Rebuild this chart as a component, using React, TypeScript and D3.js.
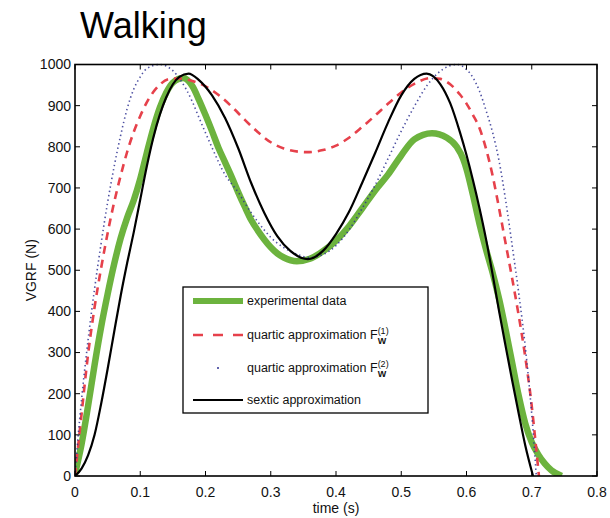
import React from 'react';
import * as d3 from 'd3';

type Pt = [number, number];

const timeTicks = [0, 0.1, 0.2, 0.3, 0.4, 0.5, 0.6, 0.7, 0.8];
const forceTicks = [0, 100, 200, 300, 400, 500, 600, 700, 800, 900, 1000];

// experimental data (green)
const experimental: Pt[] = [
  [0, 5], [0.01, 77], [0.02, 170], [0.03, 270], [0.04, 362], [0.05, 442], [0.06, 515],
  [0.07, 578], [0.08, 628], [0.09, 670], [0.10, 722], [0.11, 785], [0.12, 845],
  [0.13, 895], [0.14, 932], [0.15, 956], [0.166, 967], [0.18, 947], [0.19, 914],
  [0.20, 877], [0.21, 838], [0.22, 797], [0.23, 762], [0.24, 727], [0.25, 690],
  [0.26, 655], [0.27, 622], [0.28, 597], [0.29, 575], [0.30, 556], [0.31, 541],
  [0.32, 531], [0.34, 522], [0.36, 528], [0.375, 541], [0.39, 558], [0.40, 572],
  [0.42, 607], [0.44, 650], [0.46, 694], [0.48, 733], [0.50, 779], [0.52, 818],
  [0.547, 833], [0.57, 822], [0.585, 800], [0.595, 770], [0.60, 746], [0.61, 682],
  [0.62, 612], [0.63, 550], [0.64, 494], [0.65, 430], [0.66, 355], [0.67, 275],
  [0.68, 195], [0.69, 128], [0.70, 82], [0.71, 52], [0.72, 30], [0.73, 14], [0.746, 0],
];

// quartic approximation F_W^(1) (red dashed)
const quartic1: Pt[] = [
  [0, 0], [0.01, 150], [0.02, 295], [0.03, 410], [0.04, 505], [0.05, 590], [0.06, 665],
  [0.07, 730], [0.08, 788], [0.09, 836], [0.10, 875], [0.11, 908], [0.12, 933],
  [0.13, 951], [0.145, 965], [0.16, 966], [0.18, 960], [0.20, 947], [0.22, 926],
  [0.24, 898], [0.26, 866], [0.28, 836], [0.30, 811], [0.32, 796], [0.355, 787],
  [0.38, 792], [0.40, 803], [0.42, 822], [0.44, 848], [0.46, 876], [0.48, 905],
  [0.50, 932], [0.52, 953], [0.545, 967], [0.56, 965], [0.575, 952], [0.59, 927],
  [0.60, 905], [0.61, 877], [0.62, 845], [0.63, 795], [0.64, 730], [0.65, 650],
  [0.66, 565], [0.67, 480], [0.68, 390], [0.69, 290], [0.70, 170], [0.705, 95], [0.711, 0],
];

// quartic approximation F_W^(2) (blue dotted)
const quartic2: Pt[] = [
  [0, 0], [0.005, 100], [0.01, 185], [0.02, 330], [0.03, 455], [0.04, 565], [0.05, 665],
  [0.06, 752], [0.07, 828], [0.08, 893], [0.09, 940], [0.10, 970], [0.11, 990],
  [0.13, 1000], [0.15, 985], [0.16, 966], [0.17, 941], [0.18, 909], [0.19, 871],
  [0.20, 834], [0.21, 798], [0.22, 763], [0.23, 732], [0.24, 710], [0.25, 690],
  [0.26, 664], [0.27, 640], [0.28, 618], [0.29, 598], [0.30, 580], [0.32, 555],
  [0.34, 539], [0.36, 531], [0.38, 538], [0.40, 560], [0.42, 598], [0.44, 650],
  [0.46, 707], [0.48, 772], [0.50, 838], [0.52, 898], [0.54, 950], [0.56, 984],
  [0.585, 1000], [0.60, 988], [0.61, 968], [0.62, 935], [0.63, 888], [0.64, 835],
  [0.65, 765], [0.66, 670], [0.67, 560], [0.68, 445], [0.69, 315], [0.70, 150], [0.707, 0],
];

// sextic approximation (black)
const sextic: Pt[] = [
  [0, 0], [0.01, 18], [0.02, 50], [0.03, 100], [0.04, 175], [0.05, 260], [0.06, 350],
  [0.07, 438], [0.08, 518], [0.09, 592], [0.10, 672], [0.11, 752], [0.12, 822],
  [0.13, 878], [0.14, 921], [0.15, 952], [0.16, 970], [0.174, 978], [0.19, 962],
  [0.21, 925], [0.23, 870], [0.25, 797], [0.27, 712], [0.29, 640], [0.31, 583],
  [0.33, 547], [0.357, 527], [0.38, 547], [0.40, 588], [0.42, 642], [0.44, 712],
  [0.46, 785], [0.48, 860], [0.50, 925], [0.52, 965], [0.539, 978], [0.56, 952],
  [0.575, 906], [0.59, 835], [0.60, 780], [0.61, 718], [0.62, 650], [0.63, 575],
  [0.64, 490], [0.65, 400], [0.66, 315], [0.67, 232], [0.68, 152], [0.69, 75], [0.702, 0],
];

const legendLabels = ['experimental data', 'quartic approximation F', 'quartic approximation F', 'sextic approximation'];
const legendSup = ['', '(1)', '(2)', ''];

const FONT = '"Liberation Sans", Arial, Helvetica, sans-serif';
const GREEN = '#6cb33e';
const RED = '#e6414b';
const BLUE = '#2e3192';

export default function App() {
  const x = d3.scaleLinear().domain([0, 0.8]).range([75, 597]);
  const y = d3.scaleLinear().domain([0, 1000]).range([476, 64.5]);
  const line = d3.line<Pt>().x(d => x(d[0])).y(d => y(d[1])).curve(d3.curveMonotoneX);
  const [x0, x1] = x.range();
  const [y0, y1] = y.range();
  const tl = 5;

  const lgX = 183, lgY = 287, lgW = 245, lgH = 126;
  const rowYs = [301, 335, 368, 400];
  const sx0 = lgX + 10, sx1 = lgX + 60, tx = lgX + 64;

  return (
    <svg width={610} height={518} style={{ position: 'absolute', left: 0, top: 0, background: '#fff' }} fontFamily={FONT}>
      <rect x={0} y={0} width={610} height={518} fill="#fff" />
      <text x={80} y={38} fontSize={36} fill="#000">Walking</text>
      <defs>
        <clipPath id="plotclip">
          <rect x={x0} y={y1 - 2} width={x1 - x0} height={y0 - y1 + 2} />
        </clipPath>
      </defs>
      <g clipPath="url(#plotclip)" fill="none">
        <path d={line(experimental) || ''} stroke={GREEN} strokeWidth={6.5} strokeLinejoin="round" />
        <path d={line(quartic1) || ''} stroke={RED} strokeWidth={2.6} strokeDasharray="8 6" />
        <path d={line(quartic2) || ''} stroke={BLUE} strokeWidth={1.6} strokeDasharray="1.4 3" opacity={0.85} />
        <path d={line(sextic) || ''} stroke="#000" strokeWidth={2.2} />
      </g>
      <rect x={x0} y={y1} width={x1 - x0} height={y0 - y1} fill="none" stroke="#000" strokeWidth={1.6} />
      {timeTicks.map(t => (
        <g key={'xt' + t}>
          <line x1={x(t)} x2={x(t)} y1={y0} y2={y0 - tl} stroke="#000" strokeWidth={1} />
          <line x1={x(t)} x2={x(t)} y1={y1} y2={y1 + tl} stroke="#000" strokeWidth={1} />
          <text x={x(t)} y={497} fontSize={14} textAnchor="middle" fill="#111">{String(t)}</text>
        </g>
      ))}
      {forceTicks.map(v => (
        <g key={'yt' + v}>
          <line x1={x0} x2={x0 + tl} y1={y(v)} y2={y(v)} stroke="#000" strokeWidth={1} />
          <line x1={x1} x2={x1 - tl} y1={y(v)} y2={y(v)} stroke="#000" strokeWidth={1} />
          <text x={71} y={y(v)} dy="0.35em" fontSize={14} textAnchor="end" fill="#111">{String(v)}</text>
        </g>
      ))}
      <text x={(x0 + x1) / 2} y={513} fontSize={14} textAnchor="middle" fill="#111">time (s)</text>
      <text transform={`translate(36,${(y0 + y1) / 2}) rotate(-90)`} fontSize={14} textAnchor="middle" fill="#111">VGRF (N)</text>
      <rect x={lgX} y={lgY} width={lgW} height={lgH} fill="#fff" stroke="#000" strokeWidth={1.3} />
      <line x1={sx0} x2={sx1} y1={rowYs[0]} y2={rowYs[0]} stroke={GREEN} strokeWidth={6} />
      <line x1={sx0} x2={sx1} y1={rowYs[1]} y2={rowYs[1]} stroke={RED} strokeWidth={2.6} strokeDasharray="10 10" />
      <circle cx={(sx0 + sx1) / 2} cy={rowYs[2]} r={1} fill={BLUE} />
      <line x1={sx0} x2={sx1} y1={rowYs[3]} y2={rowYs[3]} stroke="#000" strokeWidth={2.2} />
      {legendLabels.map((lab, i) => (
        <text key={'lg' + i} x={tx} y={rowYs[i]} dy="0.35em" fontSize={12.5} fill="#111">
          {lab}
          {legendSup[i] && (
            <>
              <tspan dy={-5} fontSize={9}>{legendSup[i]}</tspan>
              <tspan dx={-11} dy={10} fontSize={9} fontWeight="bold">W</tspan>
            </>
          )}
        </text>
      ))}
    </svg>
  );
}
